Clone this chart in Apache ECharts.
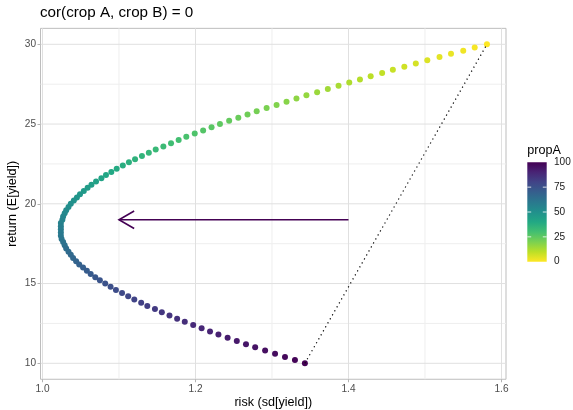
<!DOCTYPE html>
<html><head><meta charset="utf-8">
<script src="https://cdn.jsdelivr.net/npm/echarts@6/dist/echarts.min.js"></script>
<style>html,body{margin:0;padding:0;background:#fff}#c{width:573px;height:410px}</style>
</head><body><div id="c"></div>
<script>
// ---- data ----
const propA = [0,1,2,3,4,5,6,7,8,9,10,11,12,13,14,15,16,17,18,19,20,21,22,23,24,25,26,27,28,29,30,31,32,33,34,35,36,37,38,39,40,41,42,43,44,45,46,47,48,49,50,51,52,53,54,55,56,57,58,59,60,61,62,63,64,65,66,67,68,69,70,71,72,73,74,75,76,77,78,79,80,81,82,83,84,85,86,87,88,89,90,91,92,93,94,95,96,97,98,99,100];
const risk = [
1.581,1.565,1.550,1.534,1.519,1.503,1.488,1.473,1.458,1.444,
1.429,1.415,1.401,1.387,1.373,1.359,1.345,1.332,1.319,1.306,
1.293,1.280,1.268,1.256,1.244,1.232,1.221,1.210,1.199,1.188,
1.178,1.168,1.158,1.148,1.139,1.130,1.121,1.113,1.105,1.097,
1.090,1.083,1.077,1.070,1.064,1.059,1.054,1.049,1.045,1.041,
1.037,1.034,1.031,1.029,1.027,1.026,1.024,1.024,1.024,1.024,
1.024,1.025,1.027,1.029,1.031,1.034,1.037,1.040,1.044,1.048,
1.053,1.058,1.063,1.069,1.075,1.082,1.089,1.096,1.104,1.112,
1.120,1.129,1.137,1.147,1.156,1.166,1.176,1.186,1.197,1.208,
1.219,1.230,1.242,1.254,1.266,1.278,1.291,1.304,1.317,1.330,
1.343];
const ret = [
30,29.8,29.6,29.4,29.2,29,28.8,28.6,28.4,28.2,
28,27.8,27.6,27.4,27.2,27,26.8,26.6,26.4,26.2,
26,25.8,25.6,25.4,25.2,25,24.8,24.6,24.4,24.2,
24,23.8,23.6,23.4,23.2,23,22.8,22.6,22.4,22.2,
22,21.8,21.6,21.4,21.2,21,20.8,20.6,20.4,20.2,
20,19.8,19.6,19.4,19.2,19,18.8,18.6,18.4,18.2,
18,17.8,17.6,17.4,17.2,17,16.8,16.6,16.4,16.2,
16,15.8,15.6,15.4,15.2,15,14.8,14.6,14.4,14.2,
14,13.8,13.6,13.4,13.2,13,12.8,12.6,12.4,12.2,
12,11.8,11.6,11.4,11.2,11,10.8,10.6,10.4,10.2,
10];
const segX = [1.343, 1.581];
const segY = [10, 30];
const arrowFrom = [1.4, 19];
const arrowTo = [1.1, 19];
const xTicks = [1.0, 1.2, 1.4, 1.6];
const xMinor = [1.1, 1.3, 1.5];
const yTicks = [10, 15, 20, 25, 30];
const yMinor = [12.5, 17.5, 22.5, 27.5];
const legendTicks = [100, 75, 50, 25, 0];

// ---- chart ----
const FONT = '"Liberation Sans", Arial, Helvetica, sans-serif';
const viridisLowHigh = ['#FDE725','#BBDF27','#7AD151','#43BF71','#22A884','#21908C','#2A788E','#355F8D','#414487','#482475','#440154'];
const X_MIN = 0.9974, X_MAX = 1.6059, Y_MIN = 9, Y_MAX = 31;

const chart = echarts.init(document.getElementById('c'), null, {renderer: 'canvas'});

// legend colorbar geometry
const barX = 527.3, barTop = 162.3, barW = 19.4, barH = 99.4;
const legendGraphics = [
  {type: 'text', x: 527.3, y: 150.5, style: {text: 'propA', fontSize: 12.6, fontFamily: FONT, fill: '#000', align: 'left', verticalAlign: 'middle'}},
  {type: 'rect', shape: {x: barX, y: barTop, width: barW, height: barH},
   style: {fill: new echarts.graphic.LinearGradient(0, 0, 0, 1,
     viridisLowHigh.slice().reverse().map((c, i, a) => ({offset: i / (a.length - 1), color: c})))}}
];
legendTicks.forEach(v => {
  const y = barTop + barH * (100 - v) / 100;
  if (v !== 0 && v !== 100) {
    legendGraphics.push({type: 'line', shape: {x1: barX, y1: y, x2: barX + 3.9, y2: y}, style: {stroke: 'rgba(255,255,255,0.8)', lineWidth: 1}});
    legendGraphics.push({type: 'line', shape: {x1: barX + barW - 3.9, y1: y, x2: barX + barW, y2: y}, style: {stroke: 'rgba(255,255,255,0.8)', lineWidth: 1}});
  }
  legendGraphics.push({type: 'text', x: 554, y: y, style: {text: String(v), fontSize: 10.1, fontFamily: FONT, fill: '#1a1a1a', align: 'left', verticalAlign: 'middle'}});
});

const gridSeries = (vals, vertical, major) => ({
  type: 'custom', silent: true, z: 0, clip: false,
  data: vals.map(v => vertical ? [v, Y_MIN] : [X_MIN, v]),
  renderItem: (params, api) => {
    const cs = params.coordSys;
    const p = api.coord([api.value(0), api.value(1)]);
    const shape = vertical ? {x1: p[0], y1: cs.y, x2: p[0], y2: cs.y + cs.height}
                           : {x1: cs.x, y1: p[1], x2: cs.x + cs.width, y2: p[1]};
    return {type: 'line', shape: shape, style: {stroke: major ? '#e0e0e0' : '#eeeeee', lineWidth: 1}};
  }
});

const option = {
  animation: false,
  backgroundColor: '#ffffff',
  textStyle: {fontFamily: FONT},
  title: {text: 'cor(crop A, crop B) = 0', left: 40, top: 4, padding: 0,
    textStyle: {fontSize: 15.2, fontWeight: 'normal', color: '#000', fontFamily: FONT, lineHeight: 18}},
  grid: {left: 40.5, right: 67, top: 28.35, bottom: 30.75, show: true, borderColor: '#bdbdbd', borderWidth: 1,
    backgroundColor: 'transparent', containLabel: false, outerBoundsMode: 'none'},
  xAxis: {
    type: 'value', min: X_MIN, max: X_MAX,
    axisLine: {show: false, onZero: false},
    splitLine: {show: false},
    axisTick: {show: true, customValues: xTicks, length: 3, lineStyle: {color: '#b3b3b3'}},
    axisLabel: {customValues: xTicks, formatter: v => Number(v).toFixed(1), fontSize: 10.1, color: '#4d4d4d', margin: 5, fontFamily: FONT},
    name: 'risk (sd[yield])', nameLocation: 'middle', nameGap: 16.5, nameMoveOverlap: false,
    nameTextStyle: {fontSize: 12.6, color: '#000', fontFamily: FONT}
  },
  yAxis: {
    type: 'value', min: Y_MIN, max: Y_MAX,
    axisLine: {show: false, onZero: false},
    splitLine: {show: false},
    axisTick: {show: true, customValues: yTicks, length: 3, lineStyle: {color: '#b3b3b3'}},
    axisLabel: {customValues: yTicks, fontSize: 10.1, color: '#4d4d4d', margin: 4.5, fontFamily: FONT},
    name: 'return (E[yield])', nameLocation: 'middle', nameGap: 21, nameRotate: 90, nameMoveOverlap: false,
    nameTextStyle: {fontSize: 12.6, color: '#000', fontFamily: FONT}
  },
  visualMap: {type: 'continuous', show: false, dimension: 2, min: 0, max: 100, seriesIndex: 4,
    inRange: {color: viridisLowHigh}},
  graphic: legendGraphics,
  series: [
    gridSeries(xMinor, true, false),
    gridSeries(yMinor, false, false),
    gridSeries(xTicks, true, true),
    gridSeries(yTicks, false, true),
    {
      type: 'scatter', z: 2, symbol: 'circle', symbolSize: 6,
      data: propA.map((p, i) => [risk[i], ret[i], p]),
      itemStyle: {opacity: 1}
    },
    {
      type: 'line', z: 3, symbol: 'none', silent: true,
      data: segX.map((x, i) => [x, segY[i]]),
      lineStyle: {color: '#000', width: 1.2, type: [1.2, 3.4]}
    },
    {
      type: 'custom', z: 3, silent: true,
      data: [[arrowFrom[0], arrowFrom[1], arrowTo[0], arrowTo[1]]],
      encode: {x: [0, 2], y: [1, 3]},
      renderItem: (params, api) => {
        const a = api.coord([api.value(0), api.value(1)]);
        const b = api.coord([api.value(2), api.value(3)]);
        const dx = a[0] - b[0], dy = a[1] - b[1], len = Math.hypot(dx, dy);
        const ux = dx / len, uy = dy / len;
        const L = 17.5, ang = Math.PI / 6;
        const rot = t => [b[0] + L * (ux * Math.cos(t) - uy * Math.sin(t)), b[1] + L * (ux * Math.sin(t) + uy * Math.cos(t))];
        const st = {stroke: '#440154', lineWidth: 1.6, fill: null, lineCap: 'butt', lineJoin: 'miter'};
        return {type: 'group', children: [
          {type: 'line', shape: {x1: a[0], y1: a[1], x2: b[0], y2: b[1]}, style: st},
          {type: 'polyline', shape: {points: [rot(ang), b, rot(-ang)]}, style: st}
        ]};
      }
    }
  ]
};
chart.setOption(option);
</script>
</body></html>
